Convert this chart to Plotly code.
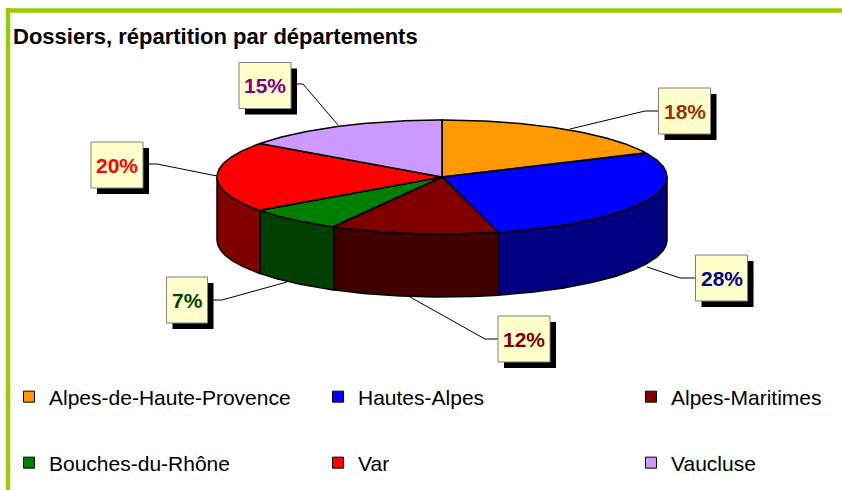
import numpy as np
import plotly.graph_objects as go

# ---- data ----
categories = ["Alpes-de-Haute-Provence", "Hautes-Alpes", "Alpes-Maritimes",
              "Bouches-du-Rhône", "Var", "Vaucluse"]
shares = [18, 28, 12, 7, 20, 15]
pct_labels = ["18%", "28%", "12%", "7%", "20%", "15%"]

# ---- styles ----
top_colors = ["#FF9900", "#0000FF", "#800000", "#008000", "#FF0000", "#CC99FF"]
side_colors = ["#804C00", "#000080", "#400000", "#004000", "#800000", "#664C80"]
label_colors = ["#993300", "#000080", "#800000", "#004000", "#FF0000", "#800080"]
FONT = "Liberation Sans, Arial, sans-serif"
BORDER = "#99CC00"

W, H = 842, 490
CX, CY, RX, RY, DEPTH = 442, 177, 225, 57, 63

# label box layout (pixel space): box centre, elbow of leader, anchor on pie
label_layout = [
    dict(box=(684.5, 111), elbow=(645, 111), anchor=(570, 129)),
    dict(box=(721.5, 278), elbow=(680, 278), anchor=(647, 267)),
    dict(box=(524, 339), elbow=(485, 339), anchor=(410, 297)),
    dict(box=(187, 300), elbow=(222, 300), anchor=(287, 282)),
    dict(box=(117, 165), elbow=(157, 164), anchor=(217, 176)),
    dict(box=(265, 85.5), elbow=(303, 84), anchor=(338, 125)),
]
# legend grid (pixel space): column left edges, row centres
legend_cols = [9, 318, 631]
legend_rows = [397, 463]


def ell(theta_deg, dy=0.0):
    t = np.radians(theta_deg)
    return CX + RX * np.sin(t), CY - RY * np.cos(t) + dy


fig = go.Figure()

total = float(sum(shares))
bounds = []
start = 0.0
for v in shares:
    end = start + 360.0 * v / total
    bounds.append((start, end))
    start = end

# side walls (front half only: 90..270 degrees)
for (a0, a1), sc in zip(bounds, side_colors):
    s0, s1 = max(a0, 90.0), min(a1, 270.0)
    if s1 <= s0:
        continue
    th = np.linspace(s0, s1, 120)
    xt, yt = ell(th)
    xb, yb = ell(th[::-1], DEPTH)
    x = np.concatenate([xt, xb, xt[:1]])
    y = np.concatenate([yt, yb, yt[:1]])
    fig.add_trace(go.Scatter(x=x, y=y, mode="lines", fill="toself", fillcolor=sc,
                             line=dict(color="black", width=1.5),
                             showlegend=False, hoverinfo="skip"))

# top faces
for (a0, a1), tc, name in zip(bounds, top_colors, categories):
    th = np.linspace(a0, a1, 160)
    xt, yt = ell(th)
    x = np.concatenate([[CX], xt, [CX]])
    y = np.concatenate([[CY], yt, [CY]])
    fig.add_trace(go.Scatter(x=x, y=y, mode="lines", fill="toself", fillcolor=tc,
                             line=dict(color="black", width=1.5), name=name,
                             showlegend=False, hoverinfo="name"))

# legend entries: one legend per entry on a 3 x 2 grid
legends = {}
for i, (name, tc) in enumerate(zip(categories, top_colors)):
    key = "legend" if i == 0 else f"legend{i + 1}"
    fig.add_trace(go.Scatter(x=[None], y=[None], mode="markers", name=name,
                             marker=dict(symbol="square", size=11, color=tc,
                                         line=dict(color="black", width=1)),
                             legend=key, showlegend=True))
    col, row = i % 3, i // 3
    legends[key] = dict(orientation="h", xanchor="left", yanchor="middle",
                        x=legend_cols[col] / W, y=1 - legend_rows[row] / H,
                        font=dict(family=FONT, size=21, color="black"),
                        bgcolor="rgba(0,0,0,0)", borderwidth=0)

shapes = []
annotations = []
# frame
shapes.append(dict(type="line", xref="x", yref="y", x0=6, x1=W, y0=10.5, y1=10.5,
                   line=dict(color=BORDER, width=4.5)))
shapes.append(dict(type="line", xref="x", yref="y", x0=8, x1=8, y0=8, y1=H,
                   line=dict(color=BORDER, width=4.5)))

for txt, col, lay in zip(pct_labels, label_colors, label_layout):
    bx, by = lay["box"]
    ex, ey = lay["elbow"]
    ax_, ay_ = lay["anchor"]
    shapes.append(dict(type="path", xref="x", yref="y", layer="above",
                       path=f"M{bx},{ey} L{ex},{ey} L{ax_},{ay_}",
                       line=dict(color="black", width=1)))
    bw = 19 + 11 * len(txt)
    bh = 46
    shapes.append(dict(type="rect", xref="x", yref="y", layer="above",
                       x0=bx - bw / 2 + 6, x1=bx + bw / 2 + 6,
                       y0=by - bh / 2 + 6, y1=by + bh / 2 + 6,
                       fillcolor="black", line=dict(width=0)))
    shapes.append(dict(type="rect", xref="x", yref="y", layer="above",
                       x0=bx - bw / 2, x1=bx + bw / 2,
                       y0=by - bh / 2, y1=by + bh / 2,
                       fillcolor="#FFFFCC", line=dict(color="#808080", width=1)))
    annotations.append(dict(x=bx, y=by, xref="x", yref="y", text=f"<b>{txt}</b>",
                            showarrow=False, xanchor="center", yanchor="middle",
                            font=dict(family=FONT, size=21, color=col)))

annotations.append(dict(x=11, y=36, xref="x", yref="y", xanchor="left", yanchor="middle",
                        text="<b>Dossiers, répartition par départements</b>",
                        showarrow=False, font=dict(family=FONT, size=22, color="black")))

fig.update_layout(
    width=W, height=H,
    margin=dict(l=0, r=0, t=0, b=0),
    paper_bgcolor="white", plot_bgcolor="white",
    xaxis=dict(range=[0, W], visible=False, fixedrange=True),
    yaxis=dict(range=[H, 0], visible=False, fixedrange=True),
    shapes=shapes, annotations=annotations,
    showlegend=True,
    **legends,
)

fig.write_html("out.html",
               config={"displayModeBar": False},
               post_script="document.body.style.margin='0px';")
